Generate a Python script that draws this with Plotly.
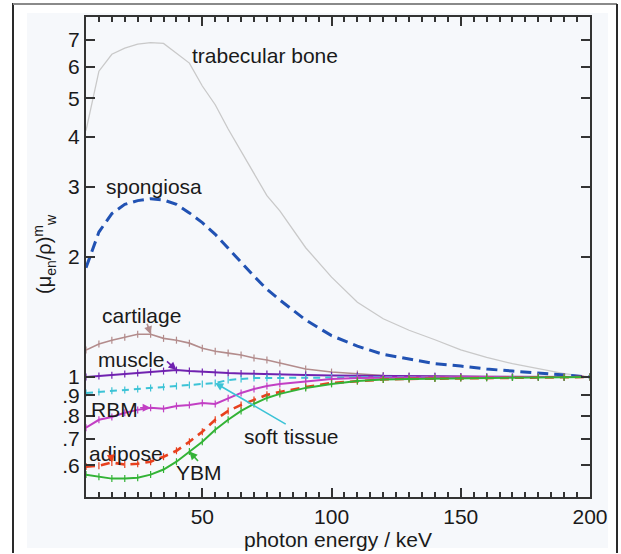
import numpy as np
import plotly.graph_objects as go

energy = [5, 10, 15, 20, 25, 30, 35, 40, 45, 50, 55, 60, 65, 70, 75, 80, 90, 100,
          110, 120, 130, 140, 150, 160, 170, 180, 190, 200]

trabecular_bone = [4.15, 5.85, 6.45, 6.68, 6.84, 6.90, 6.87, 6.49, 6.13, 5.37, 4.82, 4.19, 3.69,
                   3.23, 2.85, 2.61, 2.11, 1.78, 1.54, 1.40, 1.31, 1.24, 1.17, 1.12, 1.08,
                   1.05, 1.02, 1.00]
spongiosa = [1.88, 2.31, 2.57, 2.71, 2.77, 2.80, 2.78, 2.71, 2.58, 2.44, 2.28, 2.10, 1.94,
             1.79, 1.66, 1.56, 1.39, 1.27, 1.195, 1.14, 1.11, 1.08, 1.065, 1.047, 1.035,
             1.023, 1.01, 1.00]
cartilage = [1.168, 1.21, 1.237, 1.259, 1.28, 1.28, 1.25, 1.237, 1.216, 1.18, 1.16, 1.148,
             1.135, 1.116, 1.103, 1.084, 1.047, 1.029, 1.017, 1.009, 1.006, 1.004, 1.003,
             1.002, 1.001, 1.001, 1.0, 1.0]
muscle = [1.0, 1.006, 1.01, 1.017, 1.023, 1.03, 1.035, 1.041, 1.035, 1.03, 1.025, 1.023,
          1.021, 1.02, 1.018, 1.017, 1.012, 1.009, 1.007, 1.006, 1.005, 1.004, 1.003,
          1.002, 1.002, 1.001, 1.0, 1.0]
soft_tissue = [0.912, 0.917, 0.923, 0.928, 0.933, 0.939, 0.944, 0.949, 0.955, 0.961, 0.966,
               0.983, 0.989, 0.994, 0.994, 0.995, 0.996, 0.997, 0.998, 0.998, 0.999, 0.999,
               0.999, 1.0, 1.0, 1.0, 1.0, 1.0]
rbm = [0.746, 0.781, 0.794, 0.813, 0.827, 0.837, 0.832, 0.846, 0.851, 0.861, 0.856, 0.884,
       0.912, 0.933, 0.949, 0.961, 0.977, 0.989, 0.994, 0.997, 0.998, 0.999, 1.0, 1.0,
       1.0, 1.0, 1.0, 1.0]
adipose = [0.596, 0.599, 0.61, 0.603, 0.606, 0.613, 0.631, 0.653, 0.688, 0.729, 0.781, 0.822,
           0.851, 0.876, 0.902, 0.917, 0.944, 0.966, 0.977, 0.986, 0.989, 0.991, 0.994,
           0.995, 0.997, 0.998, 0.999, 1.0]
ybm = [0.569, 0.562, 0.556, 0.556, 0.559, 0.569, 0.586, 0.613, 0.65, 0.688, 0.737, 0.781,
       0.822, 0.856, 0.886, 0.907, 0.939, 0.961, 0.977, 0.986, 0.989, 0.991, 0.994, 0.995,
       0.997, 0.998, 0.999, 1.0]

y_tickvals = [0.6, 0.7, 0.8, 0.9, 1, 2, 3, 4, 5, 6, 7]
y_ticktext = [".6", ".7", ".8", ".9", "1", "2", "3", "4", "5", "6", "7"]
x_tickvals = [50, 100, 150, 200]

FONT = "Liberation Sans, Arial, sans-serif"
TXT = "#1a1a1a"
FS = 21

series = [
    ("trabecular bone", trabecular_bone, "#c9c9c9", 1.3, "solid", False),
    ("spongiosa", spongiosa, "#2152b3", 3, "11px,6px", False),
    ("cartilage", cartilage, "#b38c8c", 1.6, "solid", True),
    ("muscle", muscle, "#7022b0", 2, "solid", True),
    ("soft tissue", soft_tissue, "#3cc3d6", 2, "7px,5px", True),
    ("RBM", rbm, "#c23fc4", 2, "solid", True),
    ("adipose", adipose, "#e8401e", 2.6, "9px,6px", True),
    ("YBM", ybm, "#33b336", 2, "solid", True),
]

fig = go.Figure()
for name, vals, col, w, dash, mk in series:
    fig.add_trace(go.Scatter(
        x=energy, y=vals, name=name,
        mode="lines+markers" if mk else "lines",
        line=dict(color=col, width=w, dash=dash),
        marker=dict(symbol="line-ns-open", size=5, line=dict(color=col, width=1.2)),
        showlegend=False,
    ))

# pixel helpers for paper coords of the plot area
L, R, T, B = 86, 590, 17, 497
def px(xp):
    return (xp - L) / (R - L)
def py(yp):
    return (B - yp) / (B - T)

labels = [
    ("trabecular bone", 265, 55),
    ("spongiosa", 154, 187),
    ("cartilage", 141, 315),
    ("muscle", 131, 359),
    ("RBM", 114, 409),
    ("adipose", 126, 453),
    ("YBM", 199, 472),
    ("soft tissue", 291, 436),
]
annotations = []
for t, xx, yy in labels:
    annotations.append(dict(text=t, x=px(xx), y=py(yy), xref="paper", yref="paper",
                            showarrow=False, xanchor="center", yanchor="middle",
                            font=dict(family=FONT, size=FS, color=TXT)))

# arrows from labels to curves (heads on data points)
arrows = [
    (cartilage, 5, "#b38c8c", -4, -12),
    (muscle, 7, "#7022b0", -11, -10),
    (rbm, 5, "#c23fc4", -12, 0),
    (adipose, 2, "#e8401e", -1, -8),
    (ybm, 8, "#33b336", 10, 11),
    (soft_tissue, 10, "#3cc3d6", 72, 42),
]
for vals, i, col, ax, ay in arrows:
    annotations.append(dict(text="", x=energy[i], y=float(np.log10(vals[i])), xref="x", yref="y",
                            showarrow=True, ax=ax, ay=ay, arrowcolor=col, arrowwidth=1.6,
                            arrowhead=2, arrowsize=1))

# y axis title
annotations.append(dict(text="(μ<sub>en</sub>/ρ)<sup>m</sup><sub>w</sub>", x=px(44), y=py(254),
                        xref="paper", yref="paper", textangle=-90, showarrow=False,
                        xanchor="center", yanchor="middle",
                        font=dict(family=FONT, size=20, color=TXT)))

shapes = [
    dict(type="rect", xref="paper", yref="paper", x0=px(27), x1=px(608), y0=py(548), y1=py(13),
         fillcolor="#f6f8fb", line=dict(width=0), layer="below"),
    dict(type="line", xref="paper", yref="paper", x0=px(13), x1=px(13), y0=py(3), y1=py(553),
         line=dict(color="#2a2a2a", width=2), layer="above"),
    dict(type="line", xref="paper", yref="paper", x0=px(13), x1=px(617), y0=py(4), y1=py(4),
         line=dict(color="#8a8a8a", width=2), layer="above"),
    dict(type="line", xref="paper", yref="paper", x0=px(617), x1=px(617), y0=py(4), y1=py(553),
         line=dict(color="#2a2a2a", width=2), layer="above"),
]

fig.update_layout(
    width=621, height=554,
    margin=dict(l=L, r=621 - R, t=T, b=554 - B, pad=0),
    paper_bgcolor="white", plot_bgcolor="#fafbfd",
    font=dict(family=FONT, size=FS, color=TXT),
    annotations=annotations, shapes=shapes,
    xaxis=dict(range=[5, 200], tickvals=x_tickvals, ticks="inside", ticklen=9, tickwidth=1.5,
               tickcolor="#333", showline=True, linecolor="#333", linewidth=2, mirror="allticks",
               showgrid=False, zeroline=False,
               minor=dict(dtick=5, tick0=0, ticks="inside", ticklen=5, tickwidth=1.5, tickcolor="#333",
                          showgrid=False),
               tickfont=dict(family=FONT, size=FS, color=TXT),
               title=dict(text="photon energy / keV", standoff=0,
                          font=dict(family=FONT, size=FS, color=TXT))),
    yaxis=dict(type="log", range=[np.log10(0.5), np.log10(8)], tickvals=y_tickvals,
               ticktext=y_ticktext, ticks="inside", ticklen=9, tickwidth=1.5, tickcolor="#333",
               showline=True, linecolor="#333", linewidth=2, mirror="allticks",
               showgrid=False, zeroline=False,
               tickfont=dict(family=FONT, size=FS, color=TXT)),
)

fig.write_html("out.html", config={"displayModeBar": False},
               post_script="document.body.style.margin='0px';document.body.style.overflow='hidden';")
